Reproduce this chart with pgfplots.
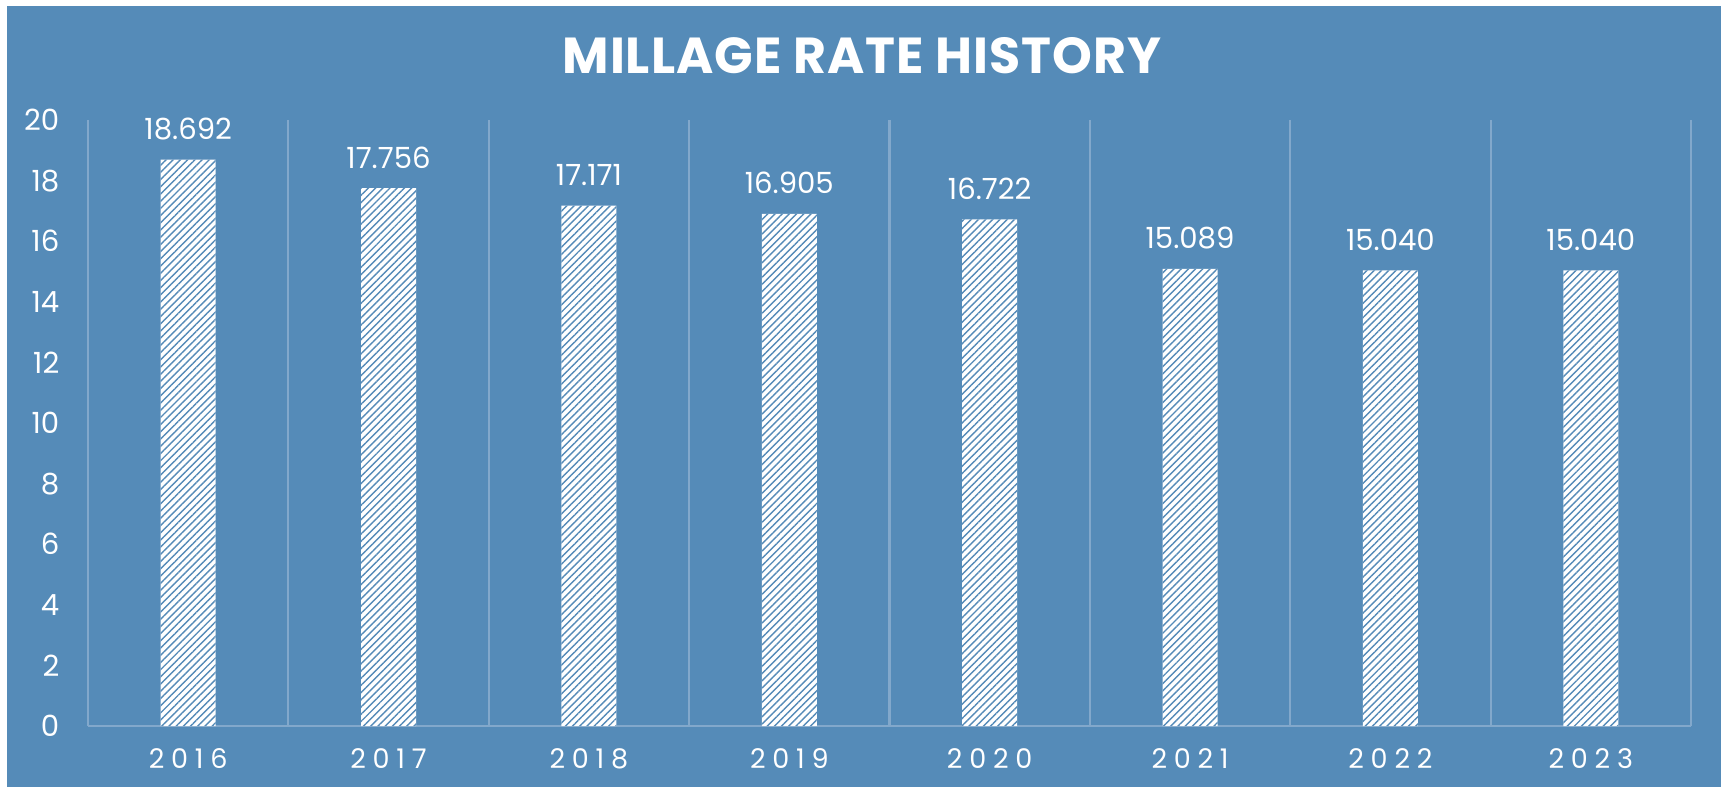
\documentclass[border=0pt]{standalone}
\usepackage{fontspec}
\setmainfont{Poppins}
\newfontfamily\titlefont[LetterSpace=2]{Poppins Bold}
\newfontfamily\xfont[LetterSpace=25]{Poppins}
\usepackage{pgfplots}
\pgfplotsset{compat=1.18}
\usetikzlibrary{patterns.meta}
\definecolor{bg}{HTML}{558BB8}
\definecolor{gridc}{HTML}{82A8CB}
\begin{document}
\begin{tikzpicture}[x=0.1mm,y=0.1mm]
\fill[white] (0,0) rectangle (1723,787);
\fill[bg] (7,0) rectangle (1721,781);
\node[white,font=\titlefont\fontsize{14.4}{16}\selectfont,inner sep=0] at (862,731) {MILLAGE RATE HISTORY};
\begin{axis}[
  at={(88mm/10,61mm/10)}, anchor=south west,
  scale only axis, width=160.3mm, height=60.6mm,
  xmin=-0.5, xmax=7.5, ymin=0, ymax=20,
  axis line style={draw=none},
  xtick={0,...,7},
  xticklabels={2016,2017,2018,2019,2020,2021,2022,2023},
  ytick={0,2,...,20},
  major tick length=0pt,
  /pgf/number format/assume math mode=true,
  xticklabel style={font=\xfont\fontsize{7.7}{9}\selectfont, text=white, anchor=north, inner sep=0pt, yshift=-2.2mm},
  yticklabel style={font=\fontsize{8.3}{9}\selectfont, text=white, anchor=east, inner sep=0pt, xshift=-2.8mm},
  extra x ticks={-0.5,0.5,...,7.5},
  extra x tick labels={},
  extra x tick style={grid=major},
  extra y ticks={0},
  extra y tick labels={},
  extra y tick style={grid=major},
  major grid style={draw=gridc, line width=0.6pt},
  clip=false,
]
\addplot[ybar, bar width=5.5mm, draw=none, fill=white,
  postaction={pattern={Lines[angle=45,distance=1.45pt,line width=0.4pt]}, pattern color=bg},
  nodes near coords={\pgfmathprintnumber[fixed,zerofill,precision=3]{\pgfplotspointmeta}},
  every node near coord/.append style={font=\fontsize{8.3}{9}\selectfont, text=white, anchor=south, inner sep=0pt, yshift=1.9mm}
] coordinates {
(0,18.692) (1,17.756) (2,17.171) (3,16.905) (4,16.722) (5,15.089) (6,15.040) (7,15.040)
};
\end{axis}
\end{tikzpicture}
\end{document}
